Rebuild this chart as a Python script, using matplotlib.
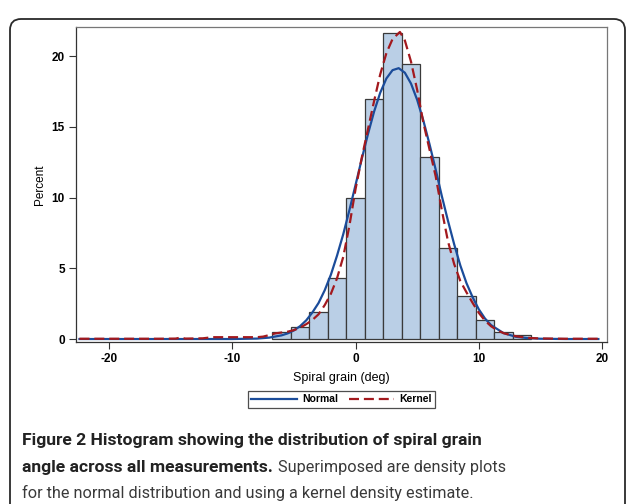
import numpy as np
import matplotlib
matplotlib.use("Agg")
import matplotlib.pyplot as plt
from matplotlib.patches import FancyBboxPatch
from matplotlib.lines import Line2D
from matplotlib.transforms import IdentityTransform

# histogram (percent per 1.5 deg bin)
bin_centers = [-6, -4.5, -3, -1.5, 0, 1.5, 3, 4.5, 6, 7.5, 9, 10.5, 12, 13.5]
bin_percent = [0.5, 0.87, 1.93, 4.29, 9.94, 16.94, 21.6, 19.43, 12.84, 6.4, 3.02, 1.32, 0.49, 0.26]
bin_width = 1.5

# normal density curve
normal_x = [-22.4, -12, -10, -8, -7, -6, -5.5, -5, -4.5, -4, -3.5, -3, -2.5, -2, -1.5, -1, -0.5,
            0, 0.5, 1, 1.5, 2, 2.5, 3, 3.5, 4, 4.5, 5, 5.5, 6, 6.5, 7, 7.5, 8, 8.5, 9, 9.5,
            10, 10.5, 11, 12, 13, 14, 15, 17, 19.7]
normal_y = [0.0, 0.0, 0.0, 0.03, 0.1, 0.26, 0.4, 0.61, 0.91, 1.32, 1.88, 2.55, 3.45, 4.55, 5.9, 7.4, 9.1,
            10.89, 12.71, 14.46, 16.06, 17.4, 18.41, 19.0, 19.14, 18.82, 18.05, 16.9, 15.44, 13.77, 11.98,
            10.1, 8.35, 6.7, 5.2, 3.95, 2.95, 2.1, 1.45, 0.98, 0.42, 0.16, 0.06, 0.02, 0.0, 0.0]

# kernel density curve
kernel_x = [-22.4, -16, -14.6, -14.2, -13.8, -12.4, -11.6, -8, -7.5, -7, -6.5, -6, -5.5, -5, -4.5, -4,
            -3.5, -3, -2.5, -2, -1.5, -1, -0.5, 0, 0.5, 1, 1.5, 2, 2.5, 3, 3.6, 4, 4.5, 5, 5.5, 6,
            6.5, 7, 7.5, 8, 8.5, 9, 9.5, 10, 10.5, 11, 11.5, 12, 12.5, 13, 14, 15, 17, 19.7]
kernel_y = [0.02, 0.02, 0.03, 0.1, 0.03, 0.05, 0.13, 0.13, 0.17, 0.28, 0.4, 0.46, 0.52, 0.63, 0.8, 1.05,
            1.35, 1.75, 2.4, 3.2, 4.3, 5.8, 8.0, 10.6, 12.8, 14.8, 16.8, 18.7, 20.2, 21.2, 21.7, 21.1,
            19.6, 17.6, 15.3, 13.4, 11.5, 9.1, 6.9, 5.3, 4.1, 3.3, 2.55, 1.85, 1.3, 0.9, 0.62, 0.42,
            0.3, 0.2, 0.08, 0.04, 0.02, 0.02]

xticks = [-20, -10, 0, 10, 20]
yticks = [0, 5, 10, 15, 20]

W, H = 627, 504
fig = plt.figure(figsize=(W / 100, H / 100), dpi=100)

# outer rounded frame of the figure panel
frame = FancyBboxPatch((10, -20), 615, 505, boxstyle="round,pad=0,rounding_size=11",
                       transform=IdentityTransform(), facecolor="none",
                       edgecolor="#2a2a2a", linewidth=1.3, clip_on=False)
fig.add_artist(frame)

ax = fig.add_axes([76 / W, 1 - 342 / H, (607 - 76) / W, (342 - 27) / H])

ax.bar(bin_centers, bin_percent, width=bin_width, color="#BACFE6",
       edgecolor="#3a3a3a", linewidth=0.9, zorder=2)
ax.plot(normal_x, normal_y, color="#1B4C9A", linewidth=1.6, zorder=3)
ax.plot(kernel_x, kernel_y, color="#A3191E", linewidth=1.6, dashes=(4.5, 2.2), zorder=4)

ax.set_xlim(-22.68, 20.4)
ax.set_ylim(-0.21, 22.05)
ax.set_xticks(xticks)
ax.set_yticks(yticks)
ax.set_xticklabels([str(t) for t in xticks], fontfamily="Liberation Sans", fontweight="bold", fontsize=8.5)
ax.set_yticklabels([str(t) for t in yticks], fontfamily="Liberation Sans", fontweight="bold", fontsize=8.5)
ax.tick_params(direction="out", length=5, width=0.8, color="#333333", pad=3)
for s in ["left", "bottom"]:
    ax.spines[s].set_color("#333333")
for s in ["top", "right"]:
    ax.spines[s].set_color("#777777")
for s in ax.spines.values():
    s.set_linewidth(0.9)

fig.text(40 / W, 1 - 185 / H, "Percent", rotation=90, ha="center", va="center",
         fontfamily="Liberation Sans", fontsize=8.5)
fig.text(341 / W, 1 - 378 / H, "Spiral grain (deg)", ha="center", va="center",
         fontfamily="Liberation Sans", fontsize=9)

handles = [Line2D([], [], color="#1B4C9A", linewidth=1.6),
           Line2D([], [], color="#A3191E", linewidth=1.6, dashes=(4.5, 2.2))]
leg = fig.legend(handles, ["Normal", "Kernel"], loc="center", bbox_to_anchor=(341.7 / W, 1 - 399.5 / H),
                 ncol=2, frameon=True, fancybox=False, handlelength=4.4, handletextpad=0.5,
                 columnspacing=1.0, borderpad=0.3, borderaxespad=0,
                 prop={"family": "Liberation Sans", "weight": "bold", "size": 7.5})
leg.get_frame().set_edgecolor("#222222")
leg.get_frame().set_linewidth(0.9)

# caption, fitted to the line widths seen in the reference
renderer = fig.canvas.get_renderer()
cap_font = "Roboto"


def fit(txt, target):
    w = txt.get_window_extent(renderer).width
    txt.set_fontsize(txt.get_fontsize() * target / w)


t1 = fig.text(22 / W, 1 - 445 / H, "Figure 2 Histogram showing the distribution of spiral grain",
              fontfamily=cap_font, fontweight="bold", fontsize=12, color="#222222", va="baseline")
fit(t1, 458)

t2 = fig.text(22 / W, 1 - 472 / H, "angle across all measurements.", fontfamily=cap_font,
              fontweight="bold", fontsize=t1.get_fontsize(), color="#222222", va="baseline")

t3 = fig.text(22 / W, 1 - 498 / H, "for the normal distribution and using a kernel density estimate.",
              fontfamily=cap_font, fontsize=12, color="#3a3a3a", va="baseline")
fit(t3, 451)

bb = t2.get_window_extent(renderer)
fig.text((bb.x1 + 5) / W, 1 - 472 / H, "Superimposed are density plots", fontfamily=cap_font,
         fontsize=t3.get_fontsize(), color="#3a3a3a", va="baseline")

fig.savefig("out.png", dpi=100)
